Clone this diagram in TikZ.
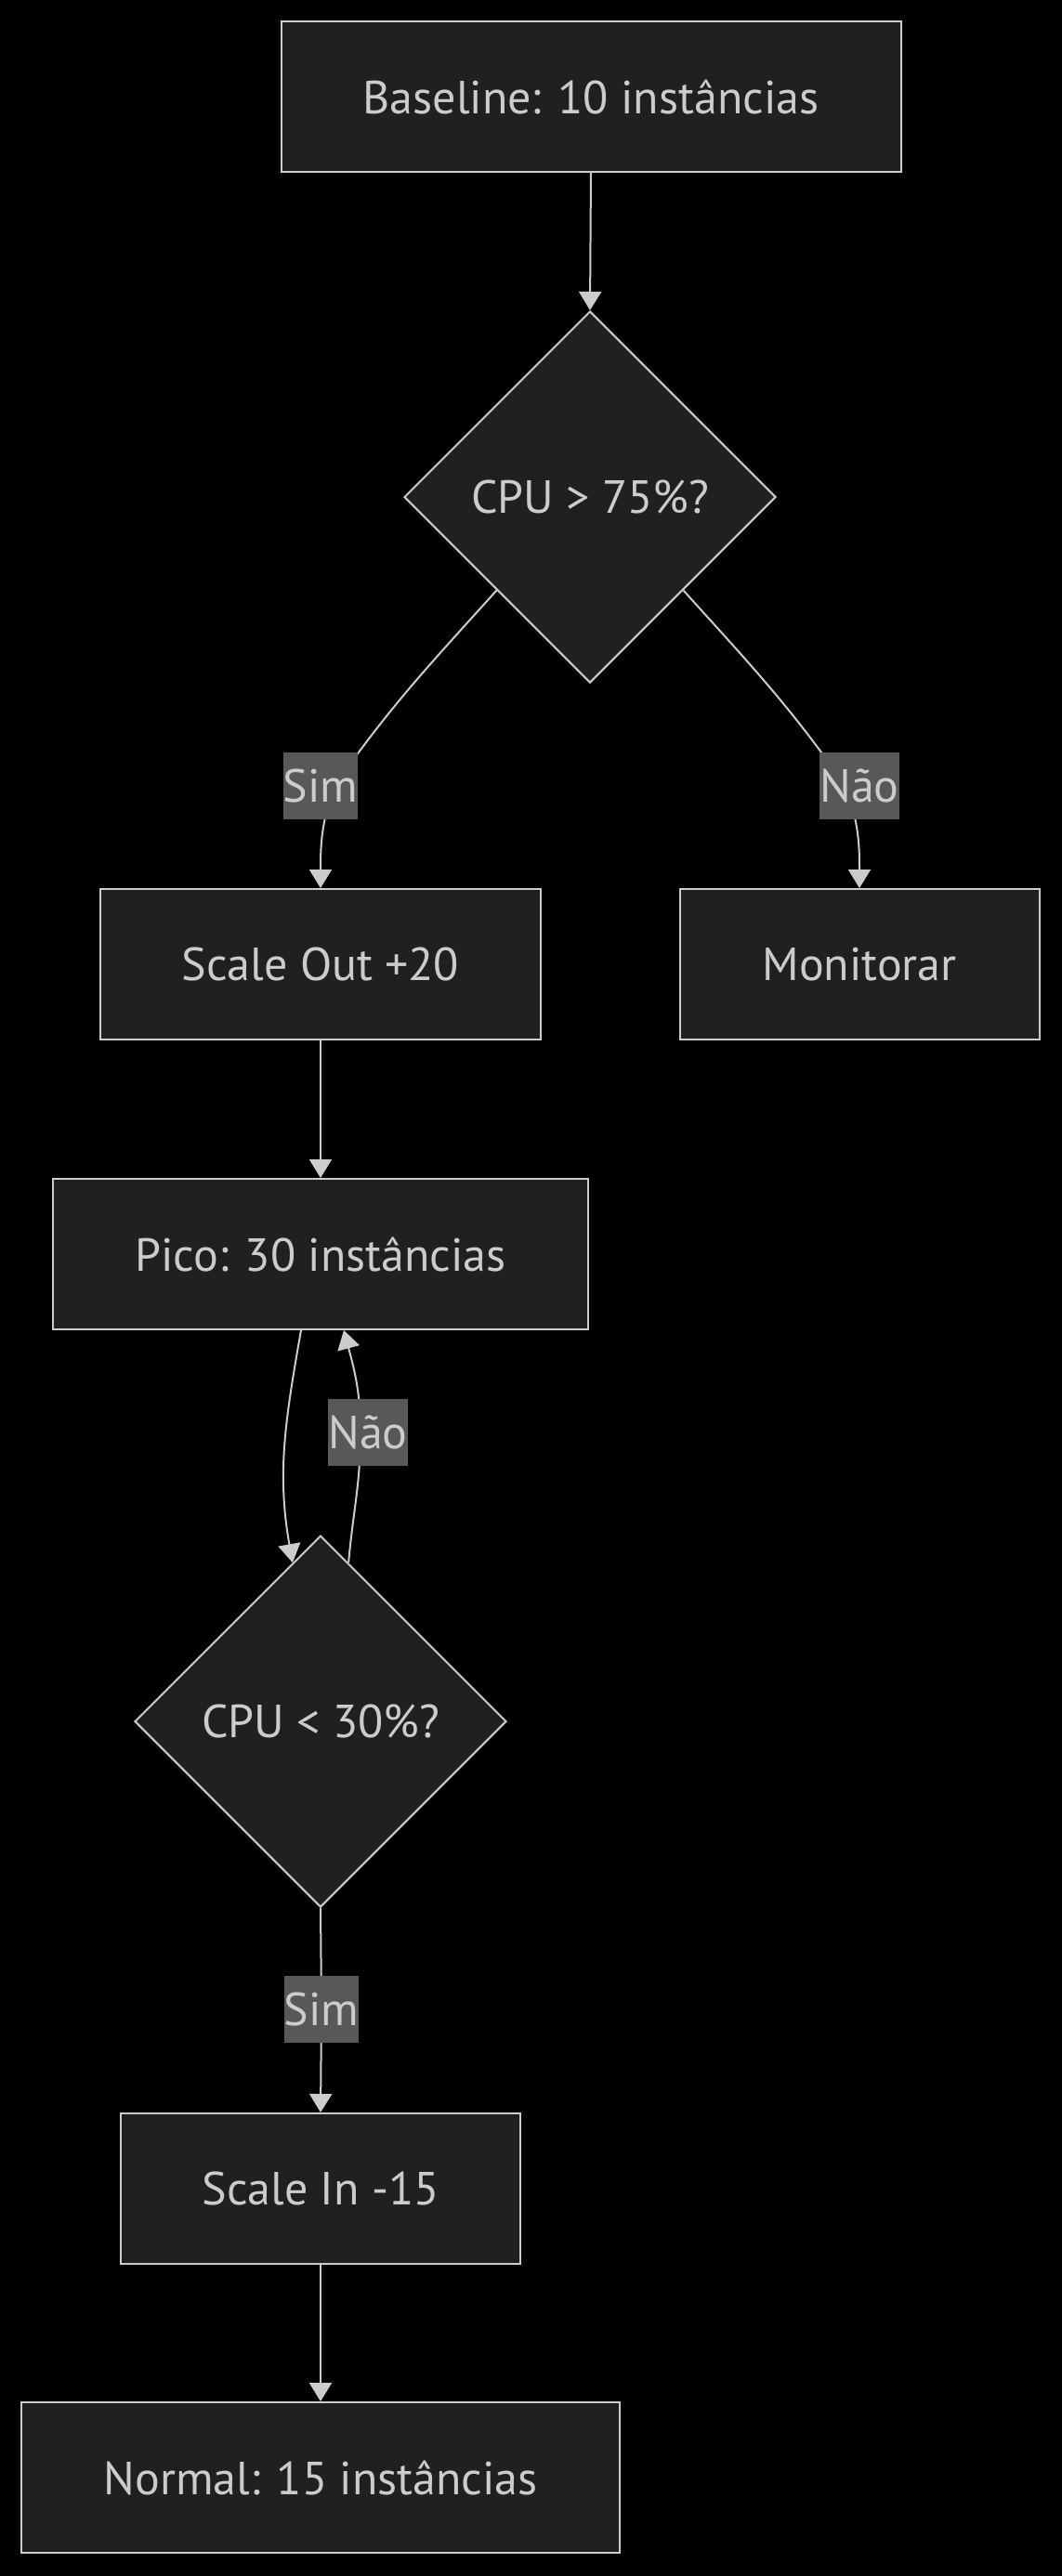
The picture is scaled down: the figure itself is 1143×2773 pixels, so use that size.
\documentclass[tikz,border=0pt]{standalone}
\usepackage{fontspec}
\setmainfont{PT Sans}
\usetikzlibrary{shapes.geometric, arrows.meta, calc}

\definecolor{nodefill}{HTML}{1F2020}
\definecolor{nodeline}{HTML}{CCCCCC}
\definecolor{labelfill}{HTML}{585858}

\tikzset{
  box/.style={draw=nodeline, fill=nodefill, line width=1pt, text=nodeline,
    inner sep=0pt, minimum height=81pt, font=\fontsize{25}{30}\selectfont},
  decision/.style={diamond, aspect=1, draw=nodeline, fill=nodefill, line width=1pt,
    text=nodeline, inner sep=0pt, minimum width=200pt, minimum height=200pt,
    font=\fontsize{25}{30}\selectfont},
  flow/.style={draw=nodeline, line width=1pt, -{Triangle[width=12pt,length=10pt]}},
  edgelabel/.style={fill=labelfill, text=nodeline, inner sep=0pt,
    minimum width=39pt, minimum height=36pt, font=\fontsize{25}{30}\selectfont}
}

\begin{document}
\begin{tikzpicture}[x=0.5pt, y=0.5pt]
  % Background
  \fill[black] (0,0) rectangle (1143,-2773);
  \useasboundingbox (0,0) rectangle (1143,-2773);

  % Draw the nodes
  \node[box, minimum width=333.5pt] (base) at (636,-104) {Baseline: 10 instâncias};
  \node[decision] (cpuhi) at (635,-535) {CPU > 75\%?};
  \node[box, minimum width=237pt] (scaleout) at (345,-1038) {Scale Out +20};
  \node[box, minimum width=193.5pt] (monitor) at (925,-1038) {Monitorar};
  \node[box, minimum width=288pt] (pico) at (345,-1350) {Pico: 30 instâncias};
  \node[decision] (cpulo) at (345,-1853) {CPU < 30\%?};
  \node[box, minimum width=215pt] (scalein) at (345,-2356) {Scale In -15};
  \node[box, minimum width=322pt] (normal) at (345,-2667) {Normal: 15 instâncias};

  % Label points on the edges
  \coordinate (sim1) at (345,-846);
  \coordinate (nao1) at (925,-846);
  \coordinate (nao2) at (396,-1542);
  \coordinate (sim2) at (346,-2163);

  % Draw the edges
  \draw[flow] (base.south) -- (cpuhi.north);
  \draw[flow] (cpuhi.south west) to[out=-132, in=55] ($(sim1)+(15,0)$) to[out=-110, in=90] (scaleout.north);
  \draw[flow] (cpuhi.south east) to[out=-48, in=125] ($(nao1)+(-15,0)$) to[out=-70, in=90] (monitor.north);
  \draw[flow] (scaleout.south) -- (pico.north);
  \draw[flow] ($(pico.south)+(-21,0)$) to[out=-100, in=100] (cpulo.100); % loop down
  \draw[flow] (cpulo.80) to[out=85, in=-90] ($(nao2)+(-8,0)$) to[out=90, in=-75] ($(pico.south)+(25,0)$); % loop back
  \draw[flow] (cpulo.south) -- (sim2) -- (scalein.north);
  \draw[flow] (scalein.south) -- (normal.north);

  % Add labels
  \node[edgelabel] (simA) at (sim1) {Sim};
  \node[edgelabel] (naoA) at (nao1) {Não};
  \node[edgelabel] (naoB) at (nao2) {Não};
  \node[edgelabel] (simB) at (sim2) {Sim};
\end{tikzpicture}
\end{document}
